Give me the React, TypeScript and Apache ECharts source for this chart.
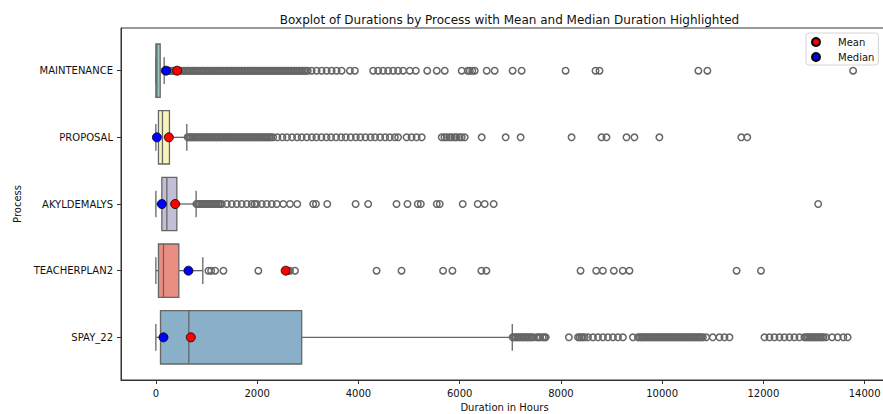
import React, { useEffect, useRef } from "react";
import * as echarts from "echarts";

const categories = ["MAINTENANCE", "PROPOSAL", "AKYLDEMALYS", "TEACHERPLAN2", "SPAY_22"];
const whiskerLow = [0, 0, 0, 0, 0];
const q1Values = [0, 51, 118, 51, 91];
const medianLine = [20, 130, 217, 150, 651];
const q3Values = [85, 268, 414, 453, 2880];
const whiskerHigh = [164, 611, 795, 927, 7040];
const meanValues = [420, 256, 381, 2564, 690];
const medianValues = [203, 20, 118, 643, 150];
const xTicks = [0, 2000, 4000, 6000, 8000, 10000, 12000, 14000];

const outliersMaintenance = [
  172, 198, 231, 262, 290, 324, 351, 383, 415, 447, 470, 506, 537, 562, 598, 630, 655, 690, 722, 748,
  781, 815, 842, 874, 909, 936, 968, 1001, 1030, 1062, 1094, 1125, 1157, 1188, 1216, 1250, 1281, 1310,
  1343, 1375, 1404, 1436, 1468, 1497, 1530, 1562, 1590, 1622, 1655, 1684, 1716, 1748, 1777, 1809, 1841,
  1870, 1903, 1934, 1962, 1995, 2027, 2058, 2089, 2120, 2152, 2183, 2215, 2246, 2276, 2309, 2340, 2371,
  2402, 2434, 2466, 2495, 2528, 2560, 2590, 2622, 2654, 2683, 2716, 2748, 2777, 2810, 2842, 2871, 2903,
  2935, 2965, 3000, 3077, 3176, 3274, 3373, 3471, 3570, 3669, 3832, 3931, 4292, 4391, 4489, 4588, 4686,
  4785, 4884, 5016, 5134, 5360, 5548, 5706, 6041, 6160, 6200, 6250, 6298, 6535, 6692, 7047, 7225, 8093,
  8684, 8763, 10716, 10894, 13773,
];
const outliersProposal = [
  628, 655, 688, 719, 747, 781, 812, 840, 872, 905, 934, 966, 998, 1027, 1060, 1091, 1121, 1153, 1186,
  1214, 1247, 1279, 1308, 1340, 1372, 1402, 1434, 1466, 1495, 1528, 1560, 1589, 1621, 1653, 1683, 1715,
  1747, 1776, 1808, 1840, 1870, 1902, 1934, 1963, 1995, 2027, 2057, 2089, 2121, 2150, 2182, 2214, 2244,
  2276, 2316, 2400, 2500, 2590, 2690, 2790, 2880, 2980, 3080, 3170, 3270, 3370, 3460, 3560, 3660, 3750,
  3850, 3950, 4040, 4140, 4240, 4330, 4430, 4530, 4620, 4720, 4785, 4952, 5051, 5150, 5252, 5647, 5700,
  5745, 5800, 5844, 5900, 5943, 6000, 6041, 6101, 6436, 6909, 7205, 8211, 8803, 8901, 9296, 9453, 9946,
  11564, 11682,
];
const outliersAkyldemalys = [
  800, 828, 861, 893, 921, 955, 987, 1015, 1048, 1080, 1110, 1142, 1174, 1204, 1236, 1268, 1302, 1400,
  1499, 1598, 1696, 1795, 1893, 1950, 1992, 2091, 2189, 2288, 2387, 2517, 2649, 2793, 3108, 3162, 3385,
  3945, 4193, 4753, 4970, 5173, 5233, 5548, 5607, 6061, 6357, 6495, 6672, 13083,
];
const outliersTeacherplan = [
  1038, 1091, 1170, 1334, 2024, 2616, 2649, 2748, 4359, 4852, 5673, 5858, 6430, 6529, 8389, 8698, 8829,
  9046, 9223, 9355, 11471, 11953,
];
const outliersSpay = [
  7048, 7075, 7108, 7139, 7168, 7201, 7233, 7262, 7294, 7326, 7356, 7388, 7420, 7450, 7523, 7556, 7590,
  7640, 7672, 7700, 8158, 8338, 8370, 8405, 8436, 8470, 8535, 8634, 8733, 8831, 8930, 9029, 9127, 9226,
  9423, 9522, 9556, 9588, 9617, 9650, 9682, 9711, 9744, 9776, 9806, 9838, 9870, 9900, 9932, 9964, 9994,
  10026, 10058, 10088, 10120, 10152, 10182, 10214, 10246, 10276, 10308, 10340, 10370, 10402, 10434,
  10464, 10496, 10528, 10558, 10590, 10622, 10652, 10684, 10716, 10746, 10778, 10804, 10871, 11001,
  11133, 11232, 11330, 12022, 12120, 12219, 12318, 12416, 12515, 12614, 12712, 12811, 12842, 12874,
  12905, 12937, 12968, 13000, 13031, 13063, 13094, 13126, 13157, 13189, 13238, 13357, 13469, 13580,
  13665,
];
const outlierLists = [outliersMaintenance, outliersProposal, outliersAkyldemalys, outliersTeacherplan, outliersSpay];

const boxColors = ["#96cac1", "#f6f6bc", "#c1bed6", "#ea8e83", "#8aafc9"];
const EDGE = "#666666";
const FONT = "DejaVu Sans";

export default function App() {
  const ref = useRef<HTMLDivElement>(null);
  useEffect(() => {
    document.body.style.margin = "0";
    if (!ref.current) return;
    const chart = echarts.init(ref.current, null, { renderer: "svg" });
    const boxData = categories.map((_, i) => [i, whiskerLow[i], q1Values[i], medianLine[i], q3Values[i], whiskerHigh[i]]);
    const outData: number[][] = [];
    outlierLists.forEach((list, i) => list.forEach((v) => outData.push([v, i])));
    const meanData = meanValues.map((v, i) => [v, i]);
    const medData = medianValues.map((v, i) => [v, i]);

    chart.setOption({
      animation: false,
      textStyle: { fontFamily: FONT },
      title: {
        text: "Boxplot of Durations by Process with Mean and Median Duration Highlighted",
        left: 504.5,
        top: 9,
        textAlign: "center",
        textStyle: { fontSize: 12, fontWeight: "normal", color: "#111", fontFamily: FONT },
      },
      legend: {
        data: ["Mean", "Median"],
        orient: "vertical",
        left: 806,
        top: 33,
        padding: [4, 4, 3, 5],
        itemGap: 5,
        itemWidth: 14,
        itemHeight: 8,
        icon: "circle",
        backgroundColor: "rgba(255,255,255,0.85)",
        borderColor: "#d5d5d5",
        borderWidth: 1,
        borderRadius: 3,
        textStyle: { fontSize: 10, color: "#111", fontFamily: FONT, padding: [0, 0, 0, 10] },
      },
      grid: {
        left: 121,
        top: 28,
        width: 767,
        height: 352,
        show: true,
        borderColor: "#333",
        borderWidth: 1,
        backgroundColor: "transparent",
        outerBoundsMode: "none",
        containLabel: false,
      },
      xAxis: {
        type: "value",
        min: -689,
        max: 14462,
        name: "Duration in Hours",
        nameLocation: "middle",
        nameGap: 22,
        nameTextStyle: { fontSize: 10, color: "#111", fontFamily: FONT },
        axisLine: { show: true, onZero: false, lineStyle: { color: "#333", width: 1 } },
        axisTick: { show: true, length: 4, customValues: xTicks, lineStyle: { color: "#333" } },
        axisLabel: {
          customValues: xTicks,
          formatter: (v: number) => String(v),
          fontSize: 10,
          color: "#111",
          margin: 8,
          fontFamily: FONT,
        },
        splitLine: { show: false },
      },
      yAxis: {
        type: "value",
        inverse: true,
        min: -0.64,
        max: 4.64,
        name: "Process",
        nameLocation: "middle",
        nameGap: 98,
        nameRotate: 90,
        nameTextStyle: { fontSize: 10, color: "#111", fontFamily: FONT },
        axisLine: { show: true, onZero: false, lineStyle: { color: "#333", width: 1 } },
        axisTick: { show: true, length: 4, customValues: [0, 1, 2, 3, 4], lineStyle: { color: "#333" } },
        axisLabel: {
          customValues: [0, 1, 2, 3, 4],
          formatter: (v: number) => categories[Math.round(v)] ?? "",
          fontSize: 10,
          color: "#111",
          margin: 8,
          fontFamily: FONT,
        },
        splitLine: { show: false },
      },
      series: [
        {
          type: "custom",
          name: "box",
          z: 2,
          silent: true,
          encode: { x: [1, 2, 3, 4, 5], y: 0 },
          data: boxData,
          renderItem: (params: any, api: any) => {
            const idx = api.value(0);
            const lo = api.coord([api.value(1), idx]);
            const q1 = api.coord([api.value(2), idx]);
            const md = api.coord([api.value(3), idx]);
            const q3 = api.coord([api.value(4), idx]);
            const hi = api.coord([api.value(5), idx]);
            const h = Math.abs(api.size([0, 0.8])[1]);
            const cy = lo[1];
            const ls = { stroke: EDGE, lineWidth: 1.3, fill: "none" };
            return {
              type: "group",
              children: [
                { type: "line", shape: { x1: lo[0], y1: cy, x2: q1[0], y2: cy }, style: ls },
                { type: "line", shape: { x1: q3[0], y1: cy, x2: hi[0], y2: cy }, style: ls },
                { type: "line", shape: { x1: lo[0], y1: cy - h / 4, x2: lo[0], y2: cy + h / 4 }, style: ls },
                { type: "line", shape: { x1: hi[0], y1: cy - h / 4, x2: hi[0], y2: cy + h / 4 }, style: ls },
                {
                  type: "rect",
                  shape: { x: q1[0], y: cy - h / 2, width: Math.max(q3[0] - q1[0], 1), height: h },
                  style: { fill: boxColors[idx], stroke: EDGE, lineWidth: 1.3 },
                },
                { type: "line", shape: { x1: md[0], y1: cy - h / 2, x2: md[0], y2: cy + h / 2 }, style: ls },
              ],
            };
          },
        },
        {
          type: "scatter",
          name: "outliers",
          z: 3,
          silent: true,
          symbol: "circle",
          symbolSize: 6.5,
          data: outData,
          itemStyle: { color: "rgba(255,255,255,0)", borderColor: EDGE, borderWidth: 1.5, opacity: 1 },
        },
        {
          type: "scatter",
          name: "Mean",
          z: 5,
          silent: true,
          symbol: "circle",
          symbolSize: 9,
          data: meanData,
          itemStyle: { color: "#ff0000", borderColor: "#000", borderWidth: 0.8, opacity: 1 },
        },
        {
          type: "scatter",
          name: "Median",
          z: 5,
          silent: true,
          symbol: "circle",
          symbolSize: 9,
          data: medData,
          itemStyle: { color: "#0000ff", borderColor: "#000", borderWidth: 0.8, opacity: 1 },
        },
      ],
    });
    return () => chart.dispose();
  }, []);
  return <div ref={ref} style={{ width: 883, height: 414 }} />;
}
